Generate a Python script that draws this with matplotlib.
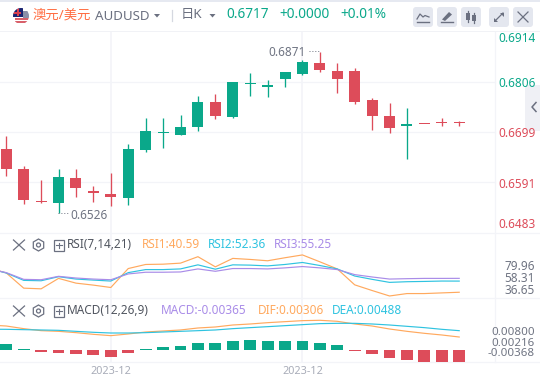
import matplotlib
matplotlib.use("Agg")
import matplotlib.pyplot as plt
from matplotlib.patches import Circle, FancyBboxPatch, Polygon, Rectangle, RegularPolygon

plt.rcParams['font.family'] = ['Noto Sans CJK SC', 'DejaVu Sans']

# candles, one row per day
opens = [0.66632, 0.66203, 0.65517, 0.65474, 0.66010, 0.65731, 0.65667, 0.65581, 0.66610, 0.66975, 0.66932,
         0.67103, 0.67639, 0.67318, 0.68025, 0.67961, 0.68132, 0.68239, 0.68475, 0.68304, 0.68304, 0.67682,
         0.67339, 0.67125, 0.67168, 0.67200, 0.67190]
closes = [0.66209, 0.65538, 0.65502, 0.66031, 0.65795, 0.65688, 0.65602, 0.66632, 0.67017, 0.66996, 0.67103,
          0.67639, 0.67339, 0.68068, 0.68047, 0.68004, 0.68282, 0.68497, 0.68325, 0.68132, 0.67639, 0.67339,
          0.67082, 0.67168, 0.67157, 0.67189, 0.67178]
highs = [0.66900, 0.66267, 0.65967, 0.66203, 0.66203, 0.65838, 0.66117, 0.66739, 0.67296, 0.67296, 0.67360,
         0.67768, 0.67811, 0.68068, 0.68261, 0.68111, 0.68282, 0.68540, 0.68710, 0.68475, 0.68368, 0.67725,
         0.67618, 0.67511, 0.67168, 0.67296, 0.67232]
lows = [0.66059, 0.65452, 0.65480, 0.65260, 0.65602, 0.65495, 0.65409, 0.65431, 0.66567, 0.66653, 0.66932,
        0.67017, 0.67275, 0.67296, 0.67768, 0.67746, 0.67961, 0.68218, 0.68282, 0.67832, 0.67596, 0.67039,
        0.66975, 0.66417, 0.67157, 0.67125, 0.67125]

# RSI lines start one day before the first candle, which is off the left edge
rsi_days = list(range(-1, 27))
rsi1 = [66.3, 60.9, 44.9, 44.2, 55.2, 50.2, 48.1, 45.6, 65.6, 69.9, 70.2, 71.3, 78.1, 67.4, 76.3, 75.2, 73.8,
        77.0, 79.96, 72.7, 65.2, 48.4, 42.4, 36.65, 39.2, 39.2, 39.9, 40.59]
rsi2 = [65.6, 60.9, 53.1, 52.7, 57.0, 54.5, 53.4, 52.4, 61.3, 64.5, 64.5, 65.2, 69.5, 64.9, 69.5, 69.2, 68.4,
        69.9, 72.0, 68.8, 65.2, 57.7, 54.2, 51.0, 51.7, 52.0, 52.4, 52.36]
rsi3 = [65.2, 61.3, 54.2, 53.8, 57.4, 55.6, 54.5, 53.8, 59.9, 61.7, 61.7, 62.0, 65.2, 62.7, 65.6, 65.6, 65.2,
        66.3, 67.7, 66.3, 64.5, 59.2, 56.7, 54.5, 54.9, 55.2, 55.2, 55.25]

# MACD, lines also start one day early
macd_hist = [0.0018, 0.0003, -0.0005, -0.0009, -0.0012, -0.0015, -0.0021, -0.0009, 0.0003, 0.0009, 0.0012,
             0.0021, 0.0021, 0.0027, 0.0030, 0.0027, 0.0027, 0.0027, 0.0021, 0.0015, -0.0003, -0.0012,
             -0.0024, -0.0030, -0.0036, -0.0036, -0.00365]
dif = [0.00650, 0.00622, 0.00546, 0.00488, 0.00469, 0.00431, 0.00383, 0.00345, 0.00393, 0.00450, 0.00479, 0.00508,
       0.00565, 0.00594, 0.00651, 0.00680, 0.00718, 0.00747, 0.00776, 0.00786, 0.00757, 0.00680, 0.00622,
       0.00536, 0.00469, 0.00412, 0.00364, 0.00306]
dea = [0.00530, 0.00527, 0.00517, 0.00508, 0.00498, 0.00469, 0.00441, 0.00421, 0.00421, 0.00431, 0.00450, 0.00469,
       0.00488, 0.00508, 0.00546, 0.00575, 0.00603, 0.00632, 0.00661, 0.00690, 0.00699, 0.00699, 0.00680,
       0.00651, 0.00613, 0.00575, 0.00527, 0.00488]

date_days = [6, 17]
date_labels = ["2023-12", "2023-12"]

TEAL = "#0aa88a"
RED = "#dd4c5a"
ORANGE = "#ffa95e"
CYAN = "#2fc3e0"
PURPLE = "#a98ce8"
GRID = "#f3f4f8"
GRAY = "#6f7482"
DARK = "#50555f"
ICON = "#6b7080"
BTN = "#e4e7ef"

W, H = 540, 383
fig = plt.figure(figsize=(W / 100, H / 100), dpi=100, facecolor="white")


def pane(top, bottom, zorder=2):
    """Axes covering the chart width between two pixel rows."""
    ax = fig.add_axes([0, 1 - bottom / H, 495 / W, (bottom - top) / H], zorder=zorder)
    ax.patch.set_alpha(0)
    ax.axis('off')
    ax.set_xlim(-6.3 / 17.42, (495 - 6.3) / 17.42)
    return ax


def pixel_axes(zorder):
    a = fig.add_axes([0, 0, 1, 1], zorder=zorder)
    a.set_xlim(0, W)
    a.set_ylim(H, 0)
    a.patch.set_alpha(0)
    a.axis('off')
    return a


# grid and frame go under the panes, header and labels over them
bg = pixel_axes(0)
ui = pixel_axes(5)

bg.add_patch(Rectangle((0, 0), W, 1.5, color="#e6e9f1", lw=0))
bg.add_patch(Rectangle((0, 30.5), W, 1.5, color="#f1f2f6", lw=0))
for y in [82.4, 132.3, 182]:
    bg.plot([0, 495], [y, y], color=GRID, lw=0.9)
for y in [233, 298.3, 362]:
    bg.plot([0, W], [y, y], color=GRID, lw=0.9)
bg.plot([495, 495], [32, 362], color=GRID, lw=0.9)

# price pane
ax = pane(32, 233)
ax.set_ylim(0.6483, 0.6914)
colors = [TEAL if c >= o else RED for o, c in zip(opens, closes)]
days = list(range(len(opens)))
ax.vlines(days, lows, highs, colors=colors, lw=0.95)
ax.bar(days, [max(abs(c - o), 0.00022) for o, c in zip(opens, closes)],
       bottom=[min(o, c) for o, c in zip(opens, closes)], width=0.63, color=colors, lw=0)
for d in date_days:
    ax.axvline(d, color=GRID, lw=1.2, zorder=0)

# RSI pane
ax_rsi = pane(233, 298.3)
ax_rsi.set_ylim(34.2, 103.1)
ax_rsi.plot(rsi_days, rsi1, color=ORANGE, lw=0.85)
ax_rsi.plot(rsi_days, rsi2, color=CYAN, lw=0.85)
ax_rsi.plot(rsi_days, rsi3, color=PURPLE, lw=0.85)
for d in date_days:
    ax_rsi.axvline(d, color=GRID, lw=1.2, zorder=0)

# MACD pane, histogram and lines have their own scales
ax_hist = pane(298.3, 362)
ax_hist.set_ylim(-0.00365, 0.01572)
ax_hist.bar(days, macd_hist, width=0.68, color=[TEAL if v >= 0 else RED for v in macd_hist], lw=0)
for d in date_days:
    ax_hist.axvline(d, color=GRID, lw=1.2, zorder=0)
ax_line = pane(298.3, 362, zorder=3)
ax_line.set_ylim(-0.00412, 0.01418)
ax_line.plot(rsi_days, dif, color=ORANGE, lw=0.85)
ax_line.plot(rsi_days, dea, color=CYAN, lw=0.85)

# date labels
for d, lab in zip(date_days, date_labels):
    ui.text(6.3 + 17.42 * d, 371, lab, color="#a8acb8", fontsize=7.8, ha="center", va="center",
            family=["Noto Sans", "DejaVu Sans"])


def label(x, y, s, color, size=8.5, ha="left", weight="normal"):
    ui.text(x, y, s, color=color, fontsize=size, ha=ha, va="center", weight=weight,
            family=["Noto Sans", "Noto Sans CJK SC", "DejaVu Sans"])


# price axis labels
label(498, 39, "0.6914", TEAL)
label(498, 83.5, "0.6806", TEAL)
label(498, 133.5, "0.6699", RED)
label(498, 184, "0.6591", RED)
label(498, 224.5, "0.6483", RED)

# high and low notes
label(268, 52, "0.6871", GRAY)
ui.plot([309, 319], [50.5, 50.5], color=GRAY, lw=0.7, ls=(0, (1, 2)))
label(70, 215.5, "0.6526", GRAY)
ui.plot([58, 68], [213, 213], color=GRAY, lw=0.7, ls=(0, (1, 2)))

# side labels of the lower panes
for y, s in [(267, "79.96"), (279, "58.31"), (291, "36.65")]:
    label(535, y, s, GRAY, ha="right")
for y, s in [(332.3, "0.00800"), (343, "0.00216"), (353.7, "-0.00368")]:
    label(535, y, s, GRAY, size=8.3, ha="right")

# pane titles
for y, name, items in [
    (245, "RSI(7,14,21)", [(142, "RSI1:40.59", ORANGE), (208, "RSI2:52.36", CYAN), (274, "RSI3:55.25", PURPLE)]),
    (311, "MACD(12,26,9)", [(161, "MACD:-0.00365", PURPLE), (258, "DIF:0.00306", ORANGE), (332, "DEA:0.00488", CYAN)]),
]:
    ui.plot([13.5, 24.5], [y - 5, y + 5], color=ICON, lw=0.9)
    ui.plot([13.5, 24.5], [y + 5, y - 5], color=ICON, lw=0.9)
    ui.add_patch(RegularPolygon((38.5, y), 6, radius=6, fill=False, ec=ICON, lw=0.9))
    ui.add_patch(Circle((38.5, y), 2, fill=False, ec=ICON, lw=0.9))
    ui.add_patch(Rectangle((53.5, y - 5), 10.5, 10.5, fill=False, ec=ICON, lw=0.9))
    ui.plot([56, 61.5], [y + 0.2, y + 0.2], color=ICON, lw=0.8)
    ui.plot([58.75, 58.75], [y - 2.5, y + 3], color=ICON, lw=0.8)
    label(67, y, name, DARK)
    for x, s, c in items:
        label(x, y, s, c)

# flag
clip = Circle((21, 16), 8, transform=ui.transData)
for patch in [Rectangle((13, 8), 16, 16, color="white", lw=0),
              Rectangle((13, 8), 10, 9, color="#1a2472", lw=0),
              Rectangle((13, 12), 8, 1.5, color="#d8404f", lw=0),
              Rectangle((17, 8), 1.5, 8, color="#d8404f", lw=0),
              Rectangle((15, 18), 14, 1.6, color="#d8606a", lw=0),
              Rectangle((15, 21.2), 14, 1.6, color="#d8606a", lw=0),
              Rectangle((23, 11), 6, 7, color="#8a8fa8", lw=0)]:
    ui.add_patch(patch)
    patch.set_clip_path(clip)

# header text
label(33, 15.5, "澳元/美元", "#ff6d42", size=9.6)
label(95, 16, "AUDUSD", ICON, size=9.6)
ui.add_patch(Polygon([[154, 14], [160, 14], [157, 17.5]], color=ICON, lw=0))
ui.plot([171.5, 171.5], [10, 21], color="#d5d8e0", lw=0.9)
label(181, 14.5, "日K", ICON, size=9.6)
ui.add_patch(Polygon([[209.5, 14], [215.5, 14], [212.5, 17.5]], color=ICON, lw=0))
label(226, 14.5, "0.6717", TEAL, size=9.8, weight="bold")
label(279, 14.5, "+0.0000", TEAL, size=9.8, weight="bold")
label(340, 14.5, "+0.01%", TEAL, size=9.8, weight="bold")

# header buttons
for x in [413, 437, 461, 489, 513]:
    ui.add_patch(FancyBboxPatch((x + 2, 9), 16, 16, boxstyle="round,pad=2,rounding_size=3", fc=BTN, ec="none", zorder=0.5))
ui.plot([417, 420, 423, 425, 429], [19, 14, 17, 15.5, 17], color=ICON, lw=0.9)
ui.plot([417, 429], [21.5, 21.5], color=ICON, lw=1.0)
ui.add_patch(Polygon([[442, 19.5], [449, 12], [452, 14.5], [445, 21]], color=ICON, lw=0))
ui.plot([441, 453], [22, 22], color=ICON, lw=1.0)
ui.plot([468, 468], [11, 22], color=ICON, lw=0.9)
ui.add_patch(Rectangle((466, 13), 4, 7, color=ICON, lw=0))
ui.plot([474, 474], [13, 23], color=ICON, lw=0.9)
ui.add_patch(Rectangle((472, 15), 4, 6, color=ICON, lw=0))
ui.plot([495, 503], [21, 13], color=ICON, lw=0.9)
ui.add_patch(Polygon([[500, 12.5], [504, 12.5], [504, 16.5]], color=ICON, lw=0))
ui.add_patch(Polygon([[494, 17.5], [494, 21.5], [498, 21.5]], color=ICON, lw=0))
ui.plot([518, 528], [12, 22], color=ICON, lw=0.9)
ui.plot([518, 528], [22, 12], color=ICON, lw=0.9)

# collapse tab on the right edge
bg.add_patch(FancyBboxPatch((528, 88), 20, 40, boxstyle="round,pad=3,rounding_size=3", fc="#eff0f5", ec="none"))
ui.plot([536, 532, 536], [102.5, 107, 111.5], color=ICON, lw=1.1)

fig.savefig("out.png", dpi=100)
